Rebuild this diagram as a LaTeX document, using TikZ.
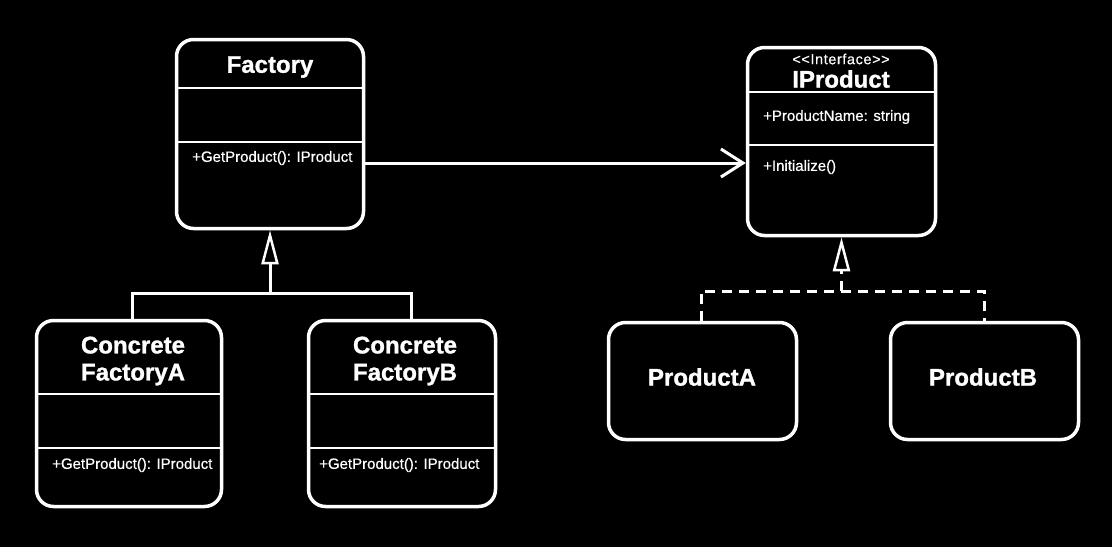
\documentclass[tikz,border=0pt]{standalone}
\usepackage{fontspec}
\setmainfont{Liberation Sans}
\newfontfamily\plainsans{Liberation Sans}[LetterSpace=4,FakeBold=0.4]
\newfontfamily\membfont{Liberation Sans}[FakeBold=0.6]
\newfontfamily\titlefont{Liberation Sans Bold}[FakeBold=1.2]
\usetikzlibrary{arrows.meta}
\begin{document}
\begin{tikzpicture}[x=1pt,y=-1pt,
  box/.style={draw=white,line width=3.5pt,rounded corners=17pt,fill=black,inner sep=0pt},
  divider/.style={draw=white,line width=2pt},
  title/.style={text=white,font=\titlefont\fontsize{24}{27}\selectfont,inner sep=0pt,align=center},
  member/.style={text=white,font=\membfont\fontsize{15}{18}\selectfont,inner sep=0pt,anchor=west},
  stereo/.style={text=white,font=\plainsans\fontsize{14.5}{16}\selectfont,inner sep=0pt},
  conn/.style={draw=white,line width=3pt},
  inherit/.style={conn,-{Triangle[open,length=34pt,width=17pt,line width=2.5pt,fill=black]}},
  realize/.style={conn,dash pattern=on 10pt off 7pt},
  assoc/.style={conn,-{Straight Barb[length=22pt,width=28pt,line width=3pt]}}]
\useasboundingbox[fill=black] (0,0) rectangle (1112,547);

% Boxes
\node[box,minimum width=187pt,minimum height=189pt] (factory) at (270,134) {};
\node[box,minimum width=188pt,minimum height=188pt] (iproduct) at (841.5,141.5) {};
\node[box,minimum width=185pt,minimum height=186pt] (cfa) at (129,413.5) {};
\node[box,minimum width=187pt,minimum height=186pt] (cfb) at (402,413.5) {};
\node[box,minimum width=188pt,minimum height=117pt] (pa) at (702.5,381) {};
\node[box,minimum width=188pt,minimum height=117pt] (pb) at (984.5,381) {};

% Dividers
\draw[divider] (factory.west |- 0,88) -- (factory.east |- 0,88);
\draw[divider] (factory.west |- 0,142) -- (factory.east |- 0,142);
\draw[divider] (iproduct.west |- 0,92) -- (iproduct.east |- 0,92);
\draw[divider] (iproduct.west |- 0,145) -- (iproduct.east |- 0,145);
\draw[divider] (cfa.west |- 0,394) -- (cfa.east |- 0,394);
\draw[divider] (cfa.west |- 0,448) -- (cfa.east |- 0,448);
\draw[divider] (cfb.west |- 0,394) -- (cfb.east |- 0,394);
\draw[divider] (cfb.west |- 0,448) -- (cfb.east |- 0,448);

% Texts
\node[title] (tfactory) at (270,67) {Factory};
\node[member] (mfactory) at (192,158) {+GetProduct(): IProduct};
\node[stereo] (tstereo) at (841,59) {<<Interface>>};
\node[title] (tiproduct) at (841,79) {IProduct};
\node[member] (mname) at (763,117) {+ProductName: string};
\node[member] (minit) at (763,167) {+Initialize()};
\node[title] (tcfa) at (133,361) {Concrete\\FactoryA};
\node[member] (mcfa) at (52,465) {+GetProduct(): IProduct};
\node[title] (tcfb) at (405,361) {Concrete\\FactoryB};
\node[member] (mcfb) at (319,465) {+GetProduct(): IProduct};
\node[title] (tpa) at (702,377) {ProductA};
\node[title] (tpb) at (983,377) {ProductB};

% Association
\draw[assoc] (factory.east |- 0,163) -- (iproduct.west |- 0,163);

% Inheritance
\coordinate (fj) at (270,293);
\draw[conn] (cfa.north -| 132,0) -- (132,293) -- (411,293) -- (cfb.north -| 411,0);
\draw[inherit] (fj) -- (factory.south);

% Realization
\coordinate (pj) at (841.5,291);
\draw[realize] (pa.north -| 701,0) -- (701,291) -- (984,291) -- (pb.north -| 984,0);
\draw[realize,-{Triangle[open,length=34pt,width=17pt,line width=2.5pt,fill=black]}] (pj) -- (iproduct.south);
\end{tikzpicture}
\end{document}
